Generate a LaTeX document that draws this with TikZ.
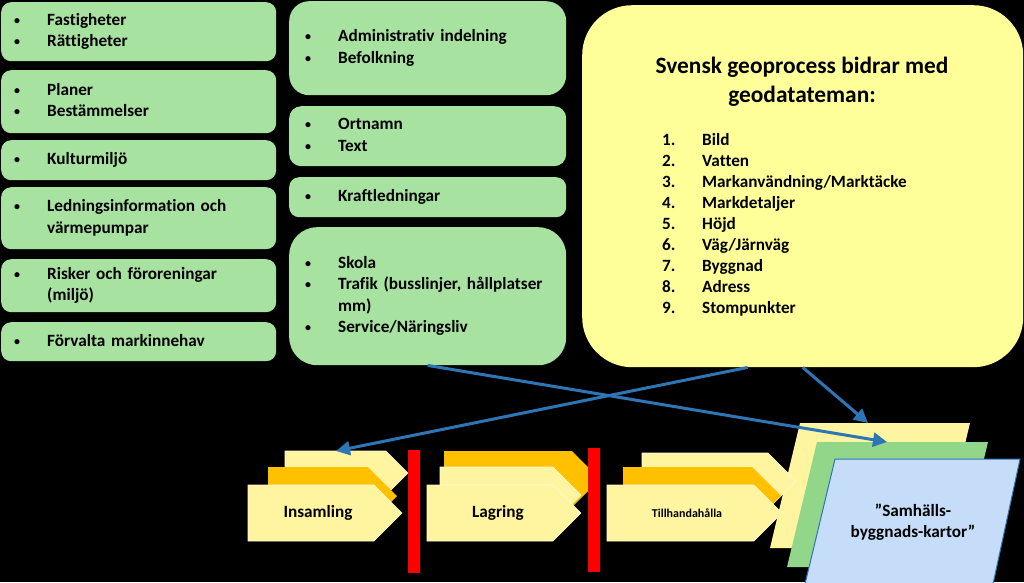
\documentclass[tikz,border=0pt]{standalone}
\usepackage{fontspec}
\setmainfont{Carlito}[Ligatures=NoCommon]
\usetikzlibrary{arrows.meta}
\definecolor{geogreen}{RGB}{168,226,160}
\definecolor{geomapgreen}{RGB}{146,214,138}
\definecolor{geoyellow}{RGB}{255,255,153}
\definecolor{geocream}{RGB}{255,245,160}
\definecolor{geoorange}{RGB}{255,192,0}
\definecolor{geolightblue}{RGB}{197,221,248}
\definecolor{geoblue}{RGB}{46,117,182}
\definecolor{geored}{RGB}{255,0,0}
\newcommand{\bu}{\raisebox{1pt}{\fontsize{12}{12}\selectfont\textbullet}}
\tikzstyle{arrow} = [line width=3pt,-{Triangle[length=14pt,width=14pt]},color=geoblue]
\tikzstyle{leftbox} = [rectangle, rounded corners=10pt, fill=geogreen, anchor=north west, minimum width=275, inner xsep=13pt, inner ysep=0pt, text width=249pt, align=left, font=\bfseries\fontsize{17.2}{21.5}\selectfont]
\tikzstyle{midbox} = [leftbox, minimum width=277, inner xsep=16pt, text width=245pt]
\tikzstyle{themebox} = [rectangle, rounded corners=50pt, fill=geoyellow, anchor=north west, minimum width=441, minimum height=362, inner sep=0pt]
\tikzstyle{chevlabel} = [inner sep=0pt, font=\bfseries\fontsize{17.2}{20}\selectfont]
\tikzstyle{chevedge} = [draw=white!55!geocream, line width=0.6pt]

\begin{document}
\begin{tikzpicture}[x=1pt, y=-1pt]
\useasboundingbox (0,0) rectangle (1024,582);
\fill[black] (0,0) rectangle (1024,582);
% Left column of data
\node[leftbox, minimum height=59] (fast) at (1,2) {\begin{tabular}{@{}p{33pt}@{}l@{}}\bu & Fastigheter\\ \bu & Rättigheter\end{tabular}};
\node[leftbox, minimum height=63] (plan) at (1,70) {\begin{tabular}{@{}p{33pt}@{}l@{}}\bu & Planer\\ \bu & Bestämmelser\end{tabular}};
\node[leftbox, minimum height=40] (kultur) at (1,140) {\begin{tabular}{@{}p{33pt}@{}l@{}}\bu & Kulturmiljö\end{tabular}};
\node[leftbox, minimum height=62] (ledning) at (1,187) {\begin{tabular}{@{}p{33pt}@{}l@{}}\bu & Ledningsinformation och\\ & värmepumpar\end{tabular}};
\node[leftbox, minimum height=53] (risk) at (1,259) {\begin{tabular}{@{}p{33pt}@{}l@{}}\bu & Risker och föroreningar\\ & (miljö)\end{tabular}};
\node[leftbox, minimum height=39] (mark) at (1,322) {\begin{tabular}{@{}p{33pt}@{}l@{}}\bu & Förvalta markinnehav\end{tabular}};
% Middle column of data
\node[midbox, rounded corners=20pt, minimum height=94] (admin) at (289,1) {\begin{tabular}{@{}p{33pt}@{}l@{}}\bu & Administrativ indelning\\ \bu & Befolkning\end{tabular}};
\node[midbox, rounded corners=12pt, minimum height=60] (ortnamn) at (289,106) {\begin{tabular}{@{}p{33pt}@{}l@{}}\bu & Ortnamn\\ \bu & Text\end{tabular}};
\node[midbox, minimum height=40] (kraft) at (289,177) {\begin{tabular}{@{}p{33pt}@{}l@{}}\bu & Kraftledningar\end{tabular}};
\node[midbox, rounded corners=28pt, minimum height=138] (skola) at (289,227) {\begin{tabular}{@{}p{33pt}@{}l@{}}\bu & Skola\\ \bu & Trafik (busslinjer, hållplatser\\ & mm)\\ \bu & Service/Näringsliv\end{tabular}};
% Geodata themes
\node[themebox] (theme) at (582,5) {};
\node[inner sep=0pt, align=center, font=\bfseries\fontsize{23.4}{29}\selectfont] (title) at (802,82) {Svensk geoprocess bidrar med\\geodatateman:};
\node[inner sep=0pt, anchor=west, font=\bfseries\fontsize{17.2}{21}\selectfont] (list) at (662,225) {\begin{tabular}{@{}p{40pt}@{}l@{}}
1. & Bild\\ 2. & Vatten\\ 3. & Markanvändning/Marktäcke\\ 4. & Markdetaljer\\ 5. & Höjd\\ 6. & Väg/Järnväg\\ 7. & Byggnad\\ 8. & Adress\\ 9. & Stompunkter\end{tabular}};
% Map stack
\fill[geocream] (800,423) -- (970,423) -- (940,548) -- (770,548) -- cycle;
\fill[geomapgreen] (817,442) -- (988,442) -- (958,567) -- (787,567) -- cycle;
\filldraw[fill=geolightblue, draw=geoblue, line width=1pt] (835,459) -- (1020,459) -- (993,584) -- (805,584) -- cycle;
\node[inner sep=0pt, align=center, font=\bfseries\fontsize{17.2}{21}\selectfont] (karta) at (913,522) {”Samhälls-\\byggnads-kartor”};
% Process chevrons
\fill[geocream, chevedge] (285,451) -- ++(101,0) -- ++(22,22) -- ++(-22,22) -- ++(-101,0) -- cycle;
\fill[geoorange] (268,467) -- ++(100,0) -- ++(29,29) -- ++(-29,29) -- ++(-100,0) -- cycle;
\fill[geocream, chevedge] (248,485) -- ++(126,0) -- ++(28,28) -- ++(-28,28) -- ++(-126,0) -- cycle;
\fill[geoorange] (444,451) -- ++(128,0) -- ++(28,28) -- ++(-28,28) -- ++(-128,0) -- cycle;
\fill[geocream, chevedge] (440,467) -- ++(113,0) -- ++(28,28) -- ++(-28,28) -- ++(-113,0) -- cycle;
\fill[geocream, chevedge] (427,485) -- ++(126,0) -- ++(28,28) -- ++(-28,28) -- ++(-126,0) -- cycle;
\fill[geocream, chevedge] (642,453) -- ++(126,0) -- ++(28,28) -- ++(-28,28) -- ++(-126,0) -- cycle;
\fill[geoorange] (623,467) -- ++(129,0) -- ++(29,29) -- ++(-29,29) -- ++(-129,0) -- cycle;
\fill[geocream, chevedge] (607,485) -- ++(147,0) -- ++(28,28) -- ++(-28,28) -- ++(-147,0) -- cycle;
\node[chevlabel] (insam) at (318,513) {Insamling};
\node[chevlabel] (lagr) at (498,513) {Lagring};
\node[chevlabel, font=\bfseries\fontsize{12}{14}\selectfont] (tillh) at (687,513) {Tillhandahålla};
\fill[geored] (408,450) rectangle (420,573);
\fill[geored] (588,448) rectangle (600,572);
% Connectors
\coordinate (insback) at (336,451);
\coordinate (mapback) at (868,423);
\coordinate (mapmid) at (887,442);
\draw[arrow] (skola.south) -- (mapmid);
\draw[arrow] ([xshift=-55pt]theme.south) -- (insback);
\draw[arrow] (theme.south) -- (mapback);
\end{tikzpicture}
\end{document}
